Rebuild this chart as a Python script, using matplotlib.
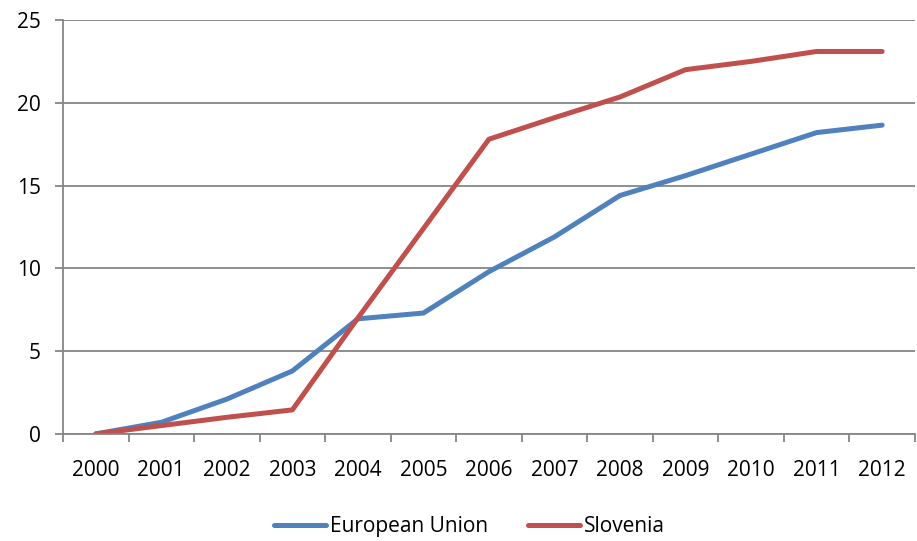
import matplotlib.pyplot as plt

# data
years = ["2000", "2001", "2002", "2003", "2004", "2005", "2006",
         "2007", "2008", "2009", "2010", "2011", "2012"]
eu = [0, 0.7, 2.1, 3.8, 6.95, 7.3, 9.8, 11.9, 14.4, 15.6, 16.9, 18.2, 18.65]
slovenia = [0, 0.5, 1.0, 1.45, 7.0, 12.4, 17.8, 19.1, 20.35, 22.0, 22.5, 23.1, 23.1]

plt.rcParams['font.family'] = ['Open Sans', 'DejaVu Sans']

fig = plt.figure(figsize=(9.17, 5.41), dpi=100)
ax = fig.add_axes([0.0687, 0.198, 0.929, 0.765])

x = list(range(len(years)))
ax.plot(x, eu, color='#4F81BD', linewidth=3.6, label='European Union', solid_capstyle='round')
ax.plot(x, slovenia, color='#C0504D', linewidth=3.6, label='Slovenia', solid_capstyle='round')

ax.set_xlim(-0.5, len(years) - 0.5)
ax.set_ylim(0, 25)
ax.set_yticks([0, 5, 10, 15, 20, 25])

# category axis: ticks between categories, labels centred
ax.set_xticks([i - 0.5 for i in range(len(years) + 1)])
ax.set_xticklabels([])
ax.set_xticks(x, minor=True)
ax.set_xticklabels(years, minor=True, fontsize=15)
ax.tick_params(axis='x', which='minor', length=0, pad=19)
ax.tick_params(axis='x', which='major', length=6, width=1.3, color='#868686', direction='out')
ax.tick_params(axis='y', length=6, width=1.3, color='#868686', labelsize=15, pad=10)

ax.grid(axis='y', color='#868686', linewidth=1.3)
ax.set_axisbelow(True)
for s in ['top', 'right']:
    ax.spines[s].set_visible(False)
for s in ['left', 'bottom']:
    ax.spines[s].set_color('#868686')
    ax.spines[s].set_linewidth(1.3)

fig.legend(loc='lower center', bbox_to_anchor=(0.512, -0.028), ncol=2, frameon=False,
           fontsize=15, handlelength=2.5, columnspacing=1.9, handletextpad=0.2)

plt.savefig("out.png", dpi=100)
